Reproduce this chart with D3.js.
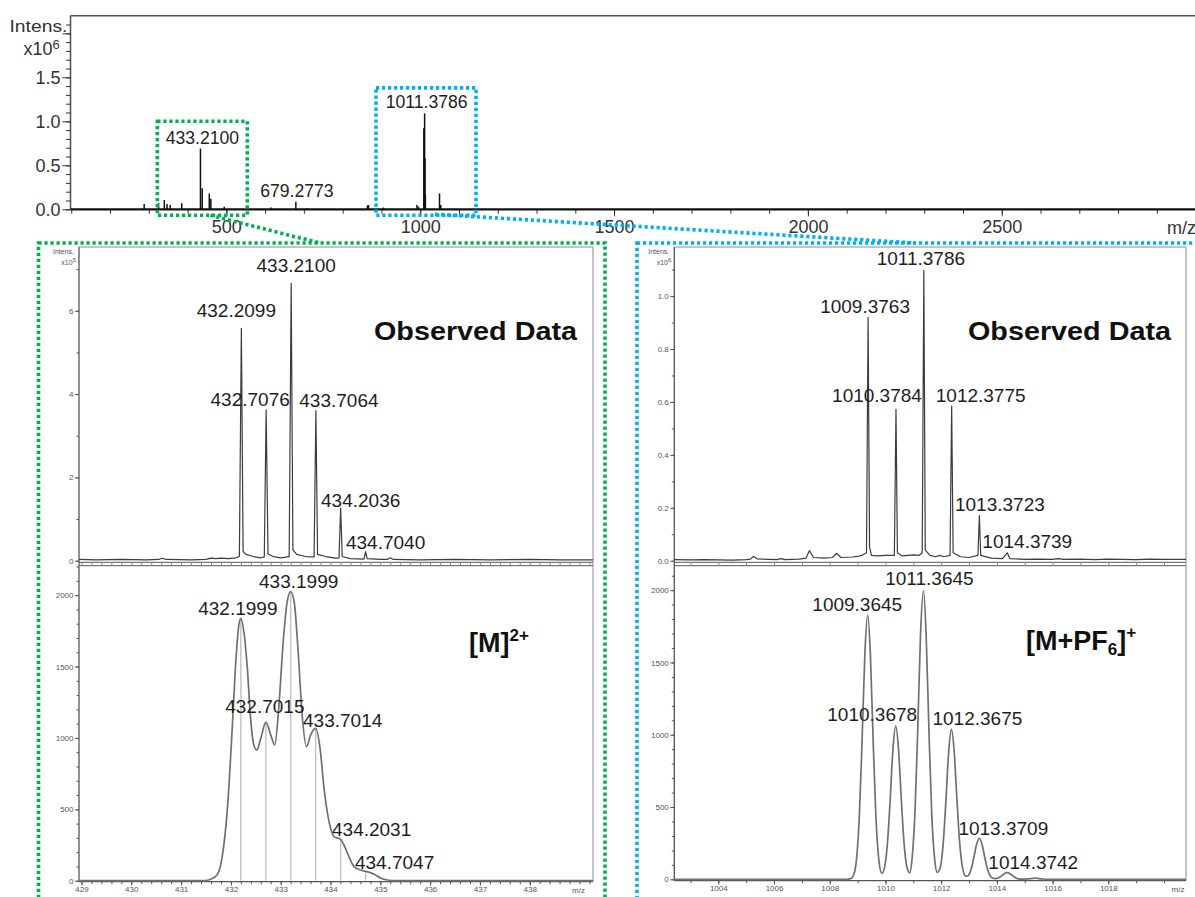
<!DOCTYPE html>
<html>
<head>
<meta charset="utf-8">
<script src="https://cdn.jsdelivr.net/npm/d3@7"></script>
<style>
  body { margin: 0; background: #fff; }
  svg { display: block; }
</style>
</head>
<body>
<svg id="fig" width="1195" height="897"></svg>
<script>
// ===================== data =====================

// Full-range survey spectrum (m/z, intensity x10^6)
const surveyXLabels = [500, 1000, 1500, 2000, 2500];
const surveyYLabels = [0, 0.5, 1.0, 1.5];
const surveyPeaks = [
  [288, 0.06], [325, 0.07], [340, 0.105], [347, 0.06], [355, 0.05], [385, 0.07],
  [433.2100, 0.69], [437.8, 0.24], [456, 0.18], [460, 0.12], [494.6, 0.03],
  [615, 0.02], [679.2773, 0.086], [708, 0.012], [864, 0.045], [866.7, 0.05],
  [905, 0.02], [991.5, 0.05], [995.6, 0.03],
  [1009.3763, 0.92], [1010.3784, 0.57], [1011.3786, 1.09], [1012.3775, 0.58],
  [1013.3723, 0.17], [1049.8, 0.18], [1053, 0.05]
];
const surveyLabels = [
  [433.2100, 0.69, "433.2100"],
  [679.2773, 0.086, "679.2773"],
  [1011.3786, 1.09, "1011.3786"]
];
// zoomed regions of the survey (m/z from, m/z to, top intensity)
const zoomRegions = [
  [322, 554, 1.0],
  [886, 1144, 1.38]
];

// [M]2+ region, observed (intensity x10^5)
const dicationObserved = [
  [428.95, 0.03], [429.3, 0.02], [429.8, 0.03], [430.3, 0.02], [430.55, 0.03], [430.62, 0.06],
  [430.7, 0.03], [431.2, 0.02], [431.5, 0.03], [431.6, 0.06], [431.7, 0.05], [431.8, 0.06],
  [431.95, 0.05], [432.1, 0.07], [432.17, 0.1], [432.2099, 5.58], [432.245, 0.22], [432.3, 0.15],
  [432.45, 0.1], [432.6, 0.07], [432.67, 0.09], [432.7076, 3.62], [432.745, 0.16], [432.85, 0.1],
  [433.0, 0.07], [433.17, 0.1], [433.2100, 6.66], [433.245, 0.26], [433.32, 0.15], [433.5, 0.1],
  [433.67, 0.09], [433.7064, 3.6], [433.74, 0.15], [433.9, 0.1], [434.1, 0.06], [434.17, 0.07],
  [434.2036, 1.26], [434.235, 0.1], [434.4, 0.05], [434.67, 0.04], [434.7040, 0.22], [434.735, 0.05],
  [435.0, 0.03], [435.14, 0.03], [435.2, 0.07], [435.26, 0.03], [435.8, 0.02], [436.5, 0.03],
  [437.2, 0.02], [438.0, 0.03], [438.6, 0.02], [439.27, 0.02]
];
const dicationObservedLabels = [
  [432.2099, 5.58, "432.2099"], [432.7076, 3.62, "432.7076"], [433.2100, 6.66, "433.2100"],
  [433.7064, 3.6, "433.7064"], [434.2036, 1.26, "434.2036"], [434.7040, 0.22, "434.7040"]
];

// [M]2+ region, simulated isotope pattern (intensity)
const dicationSimulated = [
  [428.95, 0], [431.45, 0], [431.52, 2], [431.59, 10], [431.72, 40], [431.82, 157], [431.93, 507],
  [432.03, 1091], [432.09, 1487], [432.16, 1791], [432.1999, 1837], [432.26, 1744], [432.33, 1487],
  [432.39, 1161], [432.46, 950], [432.52, 915], [432.60, 997], [432.7015, 1110], [432.80, 1020],
  [432.88, 950], [432.96, 1207], [433.05, 1674], [433.13, 1954], [433.1999, 2025], [433.27, 1954],
  [433.35, 1604], [433.43, 1161], [433.52, 939], [433.60, 1020], [433.7014, 1067], [433.79, 927],
  [433.87, 647], [433.97, 414], [434.07, 309], [434.2031, 290], [434.27, 250], [434.37, 169],
  [434.47, 99], [434.60, 75], [434.7047, 66], [434.87, 47], [435.01, 17], [435.14, 5], [435.3, 0],
  [439.27, 0]
];
const dicationSticks = [
  [432.1999, 1837], [432.7015, 1110], [433.1999, 2025], [433.7014, 1067], [434.2031, 290], [434.7047, 66]
];
const dicationSimulatedLabels = [
  [432.1999, 1837, "432.1999"], [432.7015, 1110, "432.7015"], [433.1999, 2025, "433.1999"],
  [433.7014, 1067, "433.7014"], [434.2031, 290, "434.2031"], [434.7047, 66, "434.7047"]
];

// [M+PF6]+ region, observed (intensity x10^6)
const adductObserved = [
  [1002.42, 0.004], [1003.0, 0.003], [1003.5, 0.004], [1004.0, 0.003], [1004.5, 0.002], [1005.0, 0.004],
  [1005.15, 0.006], [1005.26, 0.016], [1005.4, 0.007], [1005.8, 0.005], [1006.1, 0.004], [1006.25, 0.008],
  [1006.4, 0.004], [1006.9, 0.006], [1007.15, 0.01], [1007.27, 0.038], [1007.42, 0.012], [1007.8, 0.01],
  [1008.1, 0.012], [1008.25, 0.028], [1008.4, 0.012], [1008.8, 0.014], [1009.0, 0.016], [1009.15, 0.02],
  [1009.32, 0.03], [1009.3763, 0.92], [1009.43, 0.05], [1009.5, 0.02], [1009.7, 0.018], [1010.0, 0.02],
  [1010.32, 0.02], [1010.3784, 0.572], [1010.43, 0.03], [1010.6, 0.018], [1010.8, 0.02], [1011.0, 0.022],
  [1011.2, 0.02], [1011.32, 0.03], [1011.3786, 1.097], [1011.43, 0.04], [1011.6, 0.02], [1011.8, 0.015],
  [1011.95, 0.02], [1012.1, 0.015], [1012.32, 0.02], [1012.3775, 0.584], [1012.43, 0.03], [1012.7, 0.015],
  [1013.0, 0.012], [1013.32, 0.02], [1013.3723, 0.17], [1013.42, 0.02], [1013.8, 0.01], [1014.2, 0.008],
  [1014.3739, 0.03], [1014.46, 0.008], [1015.0, 0.005], [1015.5, 0.006], [1016.0, 0.005], [1016.2, 0.008],
  [1016.4, 0.005], [1017.0, 0.006], [1017.5, 0.004], [1018.0, 0.006], [1018.5, 0.005], [1019.0, 0.004],
  [1019.5, 0.006], [1020.0, 0.005], [1020.79, 0.005]
];
const adductObservedLabels = [
  [1009.3763, 0.92, "1009.3763"], [1010.3784, 0.572, "1010.3784"], [1011.3786, 1.097, "1011.3786"],
  [1012.3775, 0.584, "1012.3775"], [1013.3723, 0.17, "1013.3723"], [1014.3739, 0.03, "1014.3739"]
];

// [M+PF6]+ region, simulated isotope pattern (intensity)
const adductSimulated = [
  [1002.42, 0], [1008.6, 0], [1008.76, 5], [1008.86, 31], [1008.96, 136], [1009.06, 424], [1009.16, 950],
  [1009.26, 1554], [1009.3645, 1828], [1009.46, 1554], [1009.56, 950], [1009.66, 424], [1009.76, 139],
  [1009.87, 40], [1009.97, 84], [1010.07, 246], [1010.17, 551], [1010.27, 901], [1010.3678, 1060],
  [1010.47, 901], [1010.57, 551], [1010.67, 246], [1010.77, 85], [1010.87, 45], [1010.96, 152],
  [1011.06, 463], [1011.16, 1038], [1011.26, 1697], [1011.3645, 1996], [1011.46, 1697], [1011.56, 1038],
  [1011.66, 463], [1011.76, 152], [1011.86, 48], [1011.97, 83], [1012.07, 241], [1012.17, 539],
  [1012.27, 881], [1012.3675, 1037], [1012.47, 881], [1012.57, 539], [1012.67, 241], [1012.77, 78],
  [1012.88, 22], [1012.97, 26], [1013.07, 66], [1013.17, 147], [1013.27, 240], [1013.3709, 283],
  [1013.47, 240], [1013.57, 147], [1013.67, 66], [1013.77, 21], [1013.87, 6], [1013.97, 5],
  [1014.07, 11], [1014.17, 24], [1014.27, 39], [1014.3742, 46], [1014.47, 39], [1014.57, 24],
  [1014.67, 11], [1014.77, 3], [1014.9, 1], [1015.1, 3], [1015.37, 8], [1015.6, 3], [1015.8, 0],
  [1020.79, 0]
];
const adductSimulatedLabels = [
  [1009.3645, 1828, "1009.3645"], [1010.3678, 1060, "1010.3678"], [1011.3645, 1996, "1011.3645"],
  [1012.3675, 1037, "1012.3675"], [1013.3709, 283, "1013.3709"], [1014.3742, 46, "1014.3742"]
];

// ===================== layout =====================
const FONT = '"Liberation Sans", Arial, Helvetica, sans-serif';
const GREEN = "#00b050", BLUE = "#00b0f0";
const svg = d3.select("#fig");

// label nudges (pixels relative to peak apex): [dx, dy]
const nudge = {
  "433.2100s": [2, -5], "679.2773": [1, -5], "1011.3786s": [2, -5],
  "432.2099": [-5, -11], "432.7076": [-16, -3.5], "433.2100": [5, -11],
  "433.7064": [23, -3.5], "434.2036": [20, -1.5], "434.7040": [20, -3],
  "432.1999": [-3, -3], "432.7015": [-1, -9.4], "433.1999": [8, -3.4],
  "433.7014": [27, -1.3], "434.2031": [31, -3.3], "434.7047": [29, -2.4],
  "1009.3763": [-3, -4.3], "1010.3784": [-19, -7.3], "1011.3786": [-3, -5.7],
  "1012.3775": [29, -4], "1013.3723": [20.5, -4.3], "1014.3739": [20, -4.4],
  "1009.3645": [-10.5, -4.3], "1010.3678": [-23.5, -5], "1011.3645": [6, -5.7],
  "1012.3675": [26, -4.3], "1013.3709": [24, -3.4], "1014.3742": [26, -3.3]
};

function styleAxis(g, size, color) {
  g.attr("font-family", FONT).attr("font-size", size).attr("color", color);
  g.select(".domain").remove();
  return g;
}

// ---------- survey spectrum ----------
const sx = d3.scaleLinear().domain([98, 3000]).range([70.5, 1195.6]);
const sy = d3.scaleLinear().domain([0, 2.2]).range([209.3, 15.7]);

svg.append("line").attr("x1", sx(98)).attr("x2", 1195).attr("y1", sy(2.2)).attr("y2", sy(2.2))
  .attr("stroke", "#555").attr("stroke-width", 1.6);
svg.append("line").attr("x1", sx(98)).attr("x2", sx(98)).attr("y1", sy(2.2)).attr("y2", sy(0))
  .attr("stroke", "#555").attr("stroke-width", 1.6);

// y axis
styleAxis(svg.append("g").attr("transform", `translate(${sx(98)},0)`)
  .call(d3.axisLeft(sy).tickValues(d3.range(0, 22).map(i => i / 10)).tickSize(4.5).tickFormat("")), 18, "#333");
styleAxis(svg.append("g").attr("transform", `translate(${sx(98)},0)`)
  .call(d3.axisLeft(sy).tickValues(surveyYLabels.concat([2.0])).tickSize(8).tickPadding(2)
    .tickFormat(d => surveyYLabels.includes(d) ? d3.format(".1f")(d) : "")), 18, "#333");

// x axis
styleAxis(svg.append("g").attr("transform", `translate(0,${sy(0)})`)
  .call(d3.axisBottom(sx).tickValues(d3.range(100, 3000, 100)).tickSize(4.5).tickFormat("")), 18, "#333");
styleAxis(svg.append("g").attr("transform", `translate(0,${sy(0)})`)
  .call(d3.axisBottom(sx).tickValues(surveyXLabels).tickSize(7).tickPadding(4).tickFormat(d3.format("d"))), 18, "#333");

svg.append("text").attr("x", 1167).attr("y", 233.5).attr("font-family", FONT).attr("font-size", 18)
  .attr("fill", "#333").text("m/z");

// axis title
svg.append("text").attr("x", 9.5).attr("y", 31.5).attr("font-family", FONT).attr("font-size", 17)
  .attr("fill", "#333").attr("textLength", 58).attr("lengthAdjust", "spacingAndGlyphs").text("Intens.");
const xt = svg.append("text").attr("x", 23.5).attr("y", 55).attr("font-family", FONT)
  .attr("font-size", 18).attr("fill", "#333");
xt.append("tspan").text("x10");
xt.append("tspan").attr("font-size", 13).attr("dy", -6.5).text("6");

// sticks
svg.append("g").selectAll("line").data(surveyPeaks).join("line")
  .attr("x1", d => sx(d[0])).attr("x2", d => sx(d[0]))
  .attr("y1", sy(0)).attr("y2", d => sy(d[1]))
  .attr("stroke", "#111").attr("stroke-width", 1.5);

svg.append("line").attr("x1", sx(98)).attr("x2", 1195).attr("y1", sy(0)).attr("y2", sy(0))
  .attr("stroke", "#111").attr("stroke-width", 2.2);

svg.append("g").selectAll("text").data(surveyLabels).join("text")
  .attr("x", d => sx(d[0]) + (nudge[d[2] + "s"] || nudge[d[2]])[0])
  .attr("y", d => sy(d[1]) + (nudge[d[2] + "s"] || nudge[d[2]])[1])
  .attr("text-anchor", "middle").attr("font-family", FONT).attr("font-size", 17.6)
  .attr("fill", "#222").text(d => d[2]);

// ---------- zoomed panels ----------
function drawPanel(P) {
  const x = d3.scaleLinear().domain(P.xDomain).range([P.x0, P.x1]);
  const yo = d3.scaleLinear().domain([0, P.obs.yMax]).range([P.obs.zero, P.obs.top]);
  const ys = d3.scaleLinear().domain([0, P.sim.yMax]).range([P.sim.zero, P.sim.top]);
  const g = svg.append("g");

  // frames
  const frame = "#8c8c8c";
  g.append("line").attr("x1", P.x0).attr("x2", P.x1).attr("y1", P.obs.top).attr("y2", P.obs.top)
    .attr("stroke", frame).attr("stroke-width", 1);
  g.append("line").attr("x1", P.x1).attr("x2", P.x1).attr("y1", P.obs.top).attr("y2", P.sim.axis)
    .attr("stroke", frame).attr("stroke-width", 1);
  g.append("line").attr("x1", P.x0).attr("x2", P.x1).attr("y1", P.obs.axis).attr("y2", P.obs.axis)
    .attr("stroke", "#777").attr("stroke-width", 1.2);
  g.append("line").attr("x1", P.x0).attr("x2", P.x1).attr("y1", P.sim.top).attr("y2", P.sim.top)
    .attr("stroke", "#777").attr("stroke-width", 1.2);

  // observed-pane bottom ticks
  styleAxis(g.append("g").attr("transform", `translate(0,${P.obs.axis})`)
    .call(d3.axisBottom(x).tickValues(P.xMinor).tickSize(2.6).tickFormat("")), 8, "#888");

  // y axes
  styleAxis(g.append("g").attr("transform", `translate(${P.x0},0)`)
    .call(d3.axisLeft(yo).tickValues(P.obs.minor).tickSize(2.5).tickFormat("")), 8, "#555");
  styleAxis(g.append("g").attr("transform", `translate(${P.x0},0)`)
    .call(d3.axisLeft(yo).tickValues(P.obs.major).tickSize(4).tickPadding(1.5).tickFormat(P.obs.fmt)), 8, "#555");
  styleAxis(g.append("g").attr("transform", `translate(${P.x0},0)`)
    .call(d3.axisLeft(ys).tickValues(P.sim.minor).tickSize(2.5).tickFormat("")), 8, "#555");
  styleAxis(g.append("g").attr("transform", `translate(${P.x0},0)`)
    .call(d3.axisLeft(ys).tickValues(P.sim.major).tickSize(4).tickPadding(1.5).tickFormat(d3.format("d"))), 8, "#555");

  // x axis
  styleAxis(g.append("g").attr("transform", `translate(0,${P.sim.axis})`)
    .call(d3.axisBottom(x).tickValues(P.xMinor).tickSize(2.6).tickFormat("")), 8, "#555");
  styleAxis(g.append("g").attr("transform", `translate(0,${P.sim.axis})`)
    .call(d3.axisBottom(x).tickValues(P.xMajor).tickSize(4).tickPadding(1).tickFormat(d3.format("d"))), 8, "#555");
  g.append("text").attr("x", P.mzX).attr("y", P.sim.axis + 11).attr("text-anchor", "middle")
    .attr("font-family", FONT).attr("font-size", 8).attr("fill", "#555").text("m/z");

  g.append("line").attr("x1", P.x0).attr("x2", P.x0).attr("y1", P.obs.top).attr("y2", P.sim.axis)
    .attr("stroke", "#555").attr("stroke-width", 1.3);
  g.append("line").attr("x1", P.x0).attr("x2", P.x1).attr("y1", P.sim.axis).attr("y2", P.sim.axis)
    .attr("stroke", "#555").attr("stroke-width", 1.3);

  // axis title
  g.append("text").attr("x", P.x0 - 5).attr("y", P.obs.top + 7).attr("text-anchor", "end")
    .attr("font-family", FONT).attr("font-size", 7).attr("fill", "#555").text("Intens.");
  const m = g.append("text").attr("x", P.x0 - 3).attr("y", P.obs.top + 18).attr("text-anchor", "end")
    .attr("font-family", FONT).attr("font-size", 7).attr("fill", "#555");
  m.append("tspan").text("x10");
  m.append("tspan").attr("font-size", 6).attr("dy", -3.5).text(P.obs.exp);

  // sticks under simulated envelope
  if (P.sim.sticks) {
    g.append("g").selectAll("line").data(P.sim.sticks).join("line")
      .attr("x1", d => x(d[0])).attr("x2", d => x(d[0]))
      .attr("y1", ys(0)).attr("y2", d => ys(d[1]))
      .attr("stroke", "#c4c4c4").attr("stroke-width", 1.5);
  }

  // spectra
  g.append("path").datum(P.obs.data)
    .attr("d", d3.line().x(d => x(d[0])).y(d => yo(d[1])))
    .attr("fill", "none").attr("stroke", "#3c3c3c").attr("stroke-width", 1.2)
    .attr("stroke-linejoin", "round");
  g.append("path").datum(P.sim.data)
    .attr("d", d3.line().x(d => x(d[0])).y(d => ys(d[1])).curve(d3.curveMonotoneX))
    .attr("fill", "none").attr("stroke", "#707070").attr("stroke-width", 1.7);

  // peak labels
  const lab = (sel, data, y) => sel.selectAll("text").data(data).join("text")
    .attr("x", d => x(d[0]) + nudge[d[2]][0])
    .attr("y", d => y(d[1]) + nudge[d[2]][1])
    .attr("text-anchor", "middle").attr("font-family", FONT).attr("font-size", 19)
    .attr("fill", "#1e1e1e").text(d => d[2]);
  lab(g.append("g"), P.obs.labels, yo);
  lab(g.append("g"), P.sim.labels, ys);

  // panel captions
  g.append("text").attr("x", P.titleX).attr("y", 340).attr("font-family", FONT)
    .attr("font-weight", "bold").attr("font-size", 26).attr("fill", "#111")
    .attr("textLength", 203).attr("lengthAdjust", "spacingAndGlyphs").text("Observed Data");
  P.species(g);
}

const range = (a, b, s) => d3.range(Math.round((b - a) / s) + 1).map(i => +(a + i * s).toFixed(3));

drawPanel({
  x0: 79, x1: 593, xDomain: [428.95, 439.27],
  xMajor: range(429, 438, 1), xMinor: range(429, 439.2, 0.2), mzX: 578.5, titleX: 374,
  obs: { top: 247, zero: 560.7, axis: 562.4, yMax: 7.53, major: [0, 2, 4, 6], minor: range(0, 7, 1),
         fmt: d3.format("d"), exp: "5", data: dicationObserved, labels: dicationObservedLabels },
  sim: { top: 565.6, zero: 880.7, axis: 881.6, yMax: 2207, major: [0, 500, 1000, 1500, 2000],
         minor: range(0, 2200, 100), data: dicationSimulated, labels: dicationSimulatedLabels,
         sticks: dicationSticks },
  species: g => {
    const t = g.append("text").attr("x", 469).attr("y", 651.5).attr("font-family", FONT)
      .attr("font-weight", "bold").attr("font-size", 27).attr("fill", "#111");
    t.append("tspan").text("[M]");
    t.append("tspan").attr("font-size", 17).attr("dy", -11).text("2+");
  }
});

drawPanel({
  x0: 674.3, x1: 1186, xDomain: [1002.42, 1020.79],
  xMajor: range(1004, 1018, 2), xMinor: range(1003, 1020, 1), mzX: 1178, titleX: 968,
  obs: { top: 247, zero: 560.7, axis: 562.4, yMax: 1.1856, major: [0, 0.2, 0.4, 0.6, 0.8, 1.0],
         minor: range(0, 1.1, 0.1), fmt: d3.format(".1f"), exp: "6",
         data: adductObserved, labels: adductObservedLabels },
  sim: { top: 565.6, zero: 879.3, axis: 880.6, yMax: 2170, major: [0, 500, 1000, 1500, 2000],
         minor: range(0, 2100, 100), data: adductSimulated, labels: adductSimulatedLabels },
  species: g => {
    const t = g.append("text").attr("x", 1026).attr("y", 650).attr("font-family", FONT)
      .attr("font-weight", "bold").attr("font-size", 27).attr("fill", "#111");
    t.append("tspan").text("[M+PF");
    t.append("tspan").attr("font-size", 17).attr("dy", 5).text("6");
    t.append("tspan").attr("font-size", 27).attr("dy", -5).text("]");
    t.append("tspan").attr("font-size", 17).attr("dy", -12).text("+");
  }
});

// ---------- dotted zoom callouts ----------
const dots = (sel, c) => sel.attr("fill", "none").attr("stroke", c).attr("stroke-width", 3.6)
  .attr("stroke-dasharray", "3.2,2.8");
const boxBottom = sy(0) + 6;
zoomRegions.forEach((r, i) => {
  const c = i === 0 ? GREEN : BLUE;
  dots(svg.append("rect").attr("x", sx(r[0])).attr("y", sy(r[2]))
    .attr("width", sx(r[1]) - sx(r[0])).attr("height", boxBottom - sy(r[2])), c);
});
// enlarged frames around the lower panels
dots(svg.append("rect").attr("x", 38.5).attr("y", 243).attr("width", 566.5).attr("height", 700), GREEN);
dots(svg.append("rect").attr("x", 637).attr("y", 243).attr("width", 600).attr("height", 700), BLUE);
// connectors
dots(svg.append("line").attr("x1", sx(459)).attr("y1", boxBottom).attr("x2", 320).attr("y2", 243), GREEN);
dots(svg.append("line").attr("x1", sx(1038)).attr("y1", boxBottom - 1).attr("x2", 915).attr("y2", 243), BLUE);
</script>
</body>
</html>
